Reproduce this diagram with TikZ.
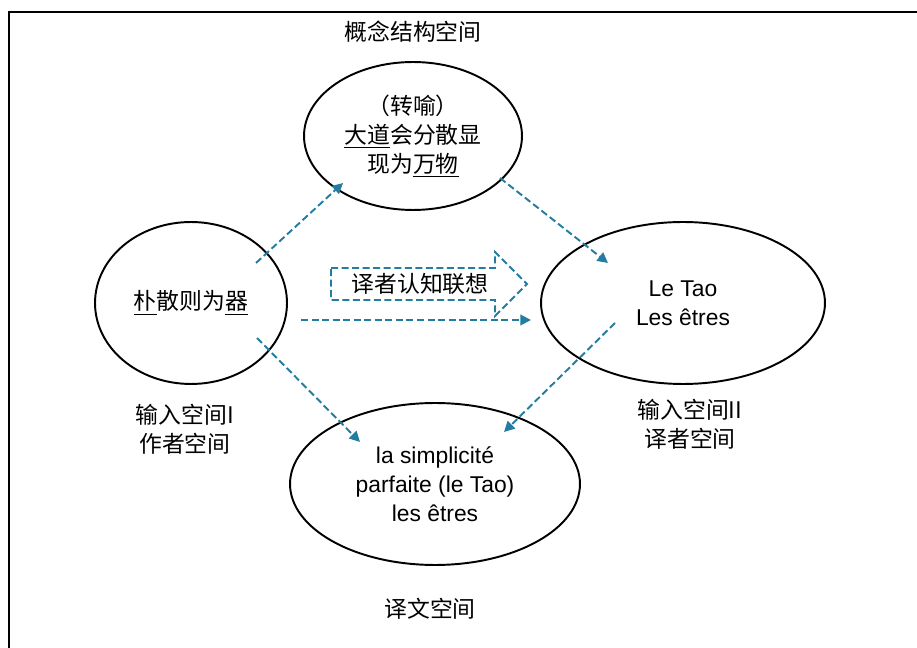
\documentclass[tikz,border=0pt]{standalone}
\usepackage{fontspec}
\setmainfont{Liberation Sans}
\newfontfamily\cjk{Noto Sans CJK SC}
\usetikzlibrary{arrows.meta,shapes.geometric}
\definecolor{mapblue}{RGB}{35,125,160}
\tikzset{
  space/.style={ellipse, draw, line width=1.1pt, align=center, inner sep=0pt},
  zh/.style={font=\cjk\fontsize{13}{16.5}\selectfont},
  fr/.style={font=\fontsize{13}{16.5}\selectfont},
  maparrow/.style={mapblue, line width=1.1pt, dash pattern=on 4pt off 2pt,
    -{Triangle[length=6pt,width=6pt]}}
}

\begin{document}
\begin{tikzpicture}[x=0.02cm, y=-0.02cm]
    \useasboundingbox (0, 0) rectangle (917, 648);
    % 外框（只有上边和左边）
    \draw [line width=1.2pt] (917, 12) -- (9, 12) -- (9, 648);

    % 四个心理空间
    \node (top)   [space, zh, minimum width=4.36cm, minimum height=2.96cm] at (413, 136)
        {（转喻）\\\underline{大道}会分散显\\现为\underline{万物}};
    \node (left)  [space, zh, minimum width=3.84cm, minimum height=3.24cm] at (191, 303)
        {\underline{朴}散则为\underline{器}};
    \node (right) [space, fr, minimum width=5.68cm, minimum height=3.24cm] at (683, 303)
        {Le Tao\\Les êtres};
    \node (bottom)[space, fr, minimum width=5.8cm, minimum height=3.24cm] at (435, 484)
        {la simplicité\\parfaite (le Tao)\\les êtres};

    % 空间名称
    \node (blend)  [zh] at (413, 32)  {概念结构空间};
    \node (input1) [zh, align=center] at (185, 429) {输入空间I\\作者空间};
    \node (input2) [zh, align=center] at (690, 424) {输入空间II\\译者空间};
    \node (target) [zh] at (430, 609) {译文空间};

    % 空心箭头
    \draw [mapblue, line width=1.1pt, dash pattern=on 4pt off 2pt]
        (331, 268) -- (495, 268) -- (495, 252) -- (527, 284)
        -- (495, 316) -- (495, 300) -- (331, 300) -- cycle;
    \node (assoc) [zh] at (420, 284) {译者认知联想};

    % 映射箭头
    \coordinate (l1) at (256, 263);  \coordinate (t1) at (343, 183);
    \coordinate (t2) at (500, 178);  \coordinate (r1) at (608, 263);
    \coordinate (r2) at (615, 323);  \coordinate (b1) at (504, 432);
    \coordinate (l2) at (257, 338);  \coordinate (b2) at (360, 442);
    \coordinate (l3) at (301, 320);  \coordinate (r3) at (531, 320);
    \draw [maparrow] (l1) -- (t1);
    \draw [maparrow] (t2) -- (r1);
    \draw [maparrow] (r2) -- (b1);
    \draw [maparrow] (l2) -- (b2);
    \draw [maparrow] (l3) -- (r3);
\end{tikzpicture}
\end{document}
